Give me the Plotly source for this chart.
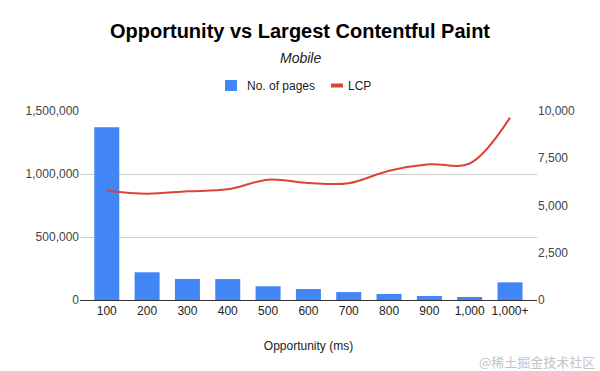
import plotly.graph_objects as go

categories = ["100", "200", "300", "400", "500", "600", "700", "800", "900", "1,000", "1,000+"]
pages = [1371000, 220000, 167000, 166000, 109000, 87000, 63000, 48000, 32000, 24000, 140000]
lcp = [5785, 5626, 5750, 5855, 6367, 6190, 6175, 6843, 7180, 7222, 9648]

left_ticks = [0, 500000, 1000000, 1500000]
right_ticks = [0, 2500, 5000, 7500, 10000]

FONT = "Liberation Sans, Arial, sans-serif"
BLUE = "#4285F4"
RED = "#DB4437"

# plot area in pixels
L, R, T, B = 80, 537, 111, 300
W, H = 600, 371


def px(x):
    return (x - L) / (R - L)


def py(y):
    return (B - y) / (B - T)


fig = go.Figure()
fig.add_trace(go.Bar(
    x=categories, y=pages, name="No. of pages",
    marker=dict(color=BLUE, line=dict(width=0)),
    yaxis="y", showlegend=False,
))
fig.add_trace(go.Scatter(
    x=categories, y=lcp, name="LCP", mode="lines",
    line=dict(color=RED, width=2, shape="spline", smoothing=1.0),
    yaxis="y2", showlegend=False,
))

annotations = [
    dict(text="<b>Opportunity vs Largest Contentful Paint</b>", x=px(300), y=py(31),
         xanchor="center", yanchor="middle",
         font=dict(family=FONT, size=20, color="#000")),
    dict(text="<i>Mobile</i>", x=px(300), y=py(58), xanchor="center", yanchor="middle",
         font=dict(family=FONT, size=14, color="#222")),
    dict(text="No. of pages", x=px(245), y=py(85.5), xanchor="left", yanchor="middle",
         font=dict(family=FONT, size=12, color="#222")),
    dict(text="LCP", x=px(346), y=py(85.5), xanchor="left", yanchor="middle",
         font=dict(family=FONT, size=12, color="#222")),
    dict(text="@稀土掘金技术社区", x=px(597), y=py(361), xanchor="right", yanchor="middle",
         font=dict(family="Noto Sans CJK SC", size=13, color="#c4c4c4")),
]
for a in annotations:
    a.update(xref="paper", yref="paper", showarrow=False)

shapes = [
    dict(type="rect", xref="paper", yref="paper", x0=px(225), x1=px(237), y0=py(91), y1=py(80),
         fillcolor=BLUE, line=dict(width=0)),
    dict(type="line", xref="paper", yref="paper", x0=px(331), x1=px(343), y0=py(85.5), y1=py(85.5),
         line=dict(color=RED, width=4)),
]

fig.update_layout(
    width=W, height=H,
    margin=dict(l=L, r=W - R, t=T, b=H - B, autoexpand=False),
    paper_bgcolor="white", plot_bgcolor="white",
    font=dict(family=FONT, size=12, color="#444"),
    bargap=0.38,
    showlegend=False,
    xaxis=dict(
        type="category", range=[-0.664, 10.669], automargin=False,
        showgrid=False, showline=True, linecolor="#333", linewidth=1,
        ticks="", tickfont=dict(size=12, color="#222"),
        title=dict(text="Opportunity (ms)", font=dict(size=12, color="#222"), standoff=24),
    ),
    yaxis=dict(
        range=[0, 1500000], tickvals=left_ticks, tickformat=",", automargin=False,
        showgrid=True, gridcolor="#cccccc", gridwidth=1,
        zeroline=False, ticks="", tickfont=dict(size=12, color="#444"),
    ),
    yaxis2=dict(
        range=[0, 10000], tickvals=right_ticks, tickformat=",", automargin=False,
        overlaying="y", side="right", showgrid=False, zeroline=False,
        ticks="", tickfont=dict(size=12, color="#444"),
    ),
    annotations=annotations,
    shapes=shapes,
)

fig.write_html(
    "out.html",
    config={"displayModeBar": False},
    post_script="document.body.style.margin='0';document.body.style.overflow='hidden';",
)
